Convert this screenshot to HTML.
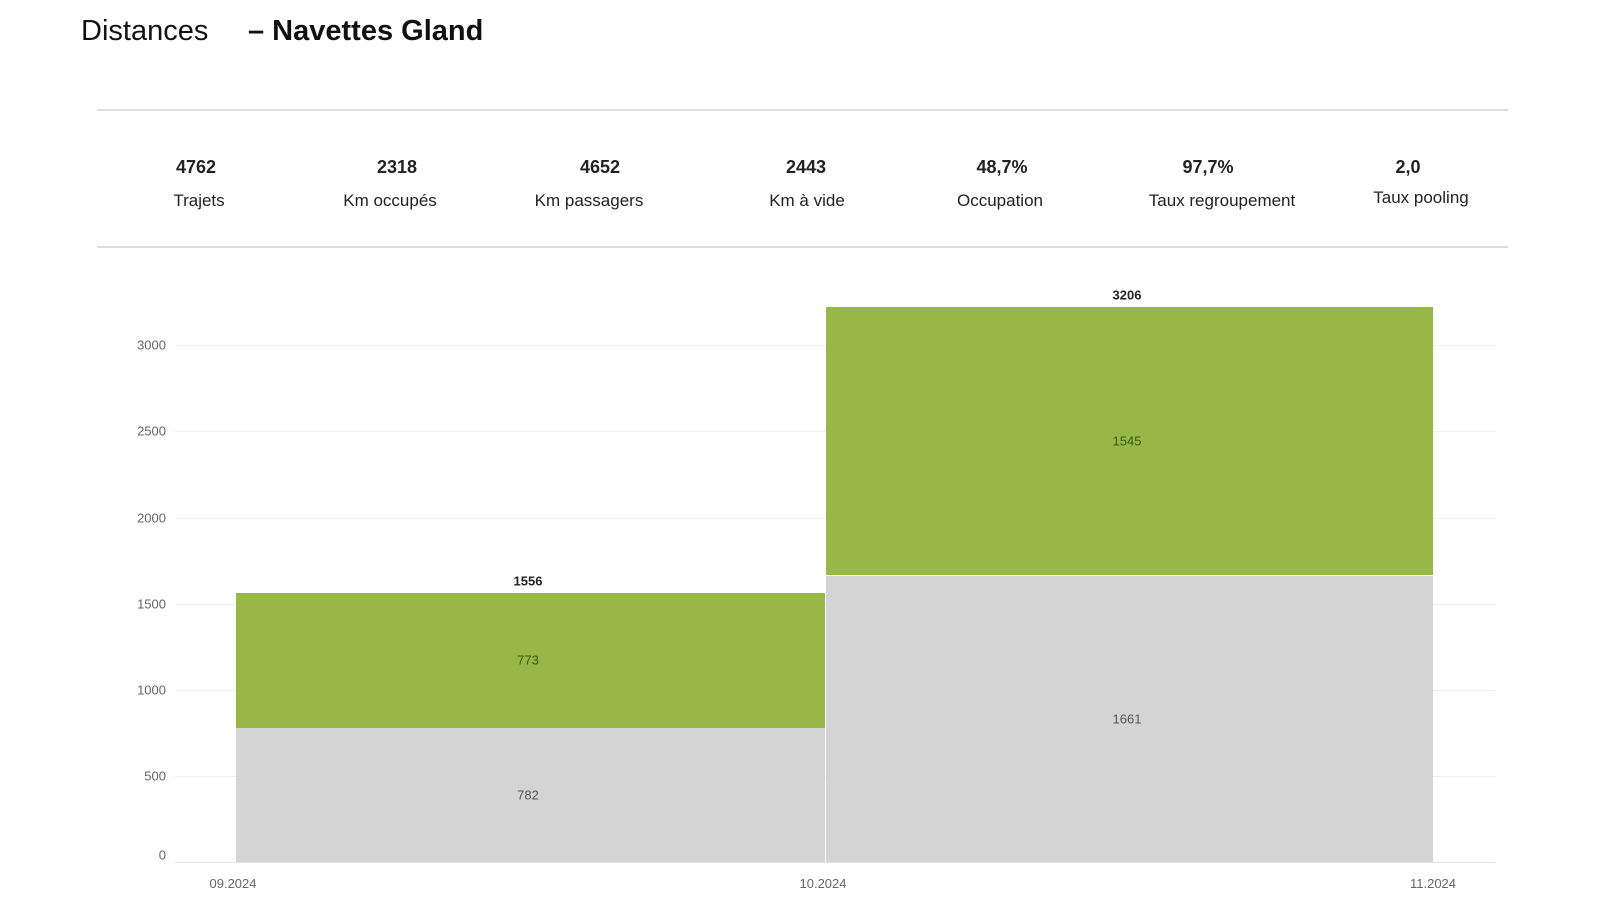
<!DOCTYPE html>
<html><head><meta charset="utf-8"><style>
body{margin:0;width:1600px;height:900px;background:#fff;font-family:"Liberation Sans",sans-serif;position:relative;overflow:hidden}
.a{position:absolute;white-space:nowrap}
.t{font-size:29px;color:#111;top:15px}
.n{font-weight:bold;font-size:18px;color:#222;top:157px;transform:translateX(-50%)}
.l{font-size:17px;color:#222;top:191px;transform:translateX(-50%)}
.hr{position:absolute;left:97px;width:1411px;height:2px;background:#ddd}
.g{position:absolute;left:175px;width:1320px;height:1px;background:#f0f0f0}
.y{font-size:13px;color:#666;right:1434px;transform:translateY(-50%)}
.x{font-size:13px;color:#666;top:876px;transform:translateX(-50%)}
.v{font-size:13px;color:#555;transform:translate(-50%,-50%)}
</style></head><body>
<div class="a t" style="left:81px">Distances</div>
<div class="a t" style="left:248px;font-weight:bold">– Navettes Gland</div>
<div class="hr" style="top:109px"></div>
<div class="hr" style="top:246px"></div>
<div class="a n" style="left:196px">4762</div><div class="a l" style="left:199px">Trajets</div>
<div class="a n" style="left:397px">2318</div><div class="a l" style="left:390px">Km occupés</div>
<div class="a n" style="left:600px">4652</div><div class="a l" style="left:589px">Km passagers</div>
<div class="a n" style="left:806px">2443</div><div class="a l" style="left:807px">Km à vide</div>
<div class="a n" style="left:1002px">48,7%</div><div class="a l" style="left:1000px">Occupation</div>
<div class="a n" style="left:1208px">97,7%</div><div class="a l" style="left:1222px">Taux regroupement</div>
<div class="a n" style="left:1408px">2,0</div><div class="a l" style="left:1421px;top:188px">Taux pooling</div>

<div class="g" style="top:345px"></div><div class="g" style="top:431px"></div><div class="g" style="top:518px"></div>
<div class="g" style="top:604px"></div><div class="g" style="top:690px"></div><div class="g" style="top:776px"></div>
<div class="g" style="top:862px;background:#e4e4e4"></div>
<div class="a y" style="top:345px">3000</div><div class="a y" style="top:431px">2500</div><div class="a y" style="top:518px">2000</div>
<div class="a y" style="top:604px">1500</div><div class="a y" style="top:690px">1000</div><div class="a y" style="top:776px">500</div>
<div class="a y" style="top:855px">0</div>

<div class="a" style="left:236px;top:593px;width:589px;height:135px;background:#97b847"></div>
<div class="a" style="left:236px;top:728px;width:589px;height:134px;background:#d4d4d4"></div>
<div class="a" style="left:826px;top:307px;width:607px;height:268px;background:#97b847"></div>
<div class="a" style="left:826px;top:576px;width:607px;height:286px;background:#d4d4d4"></div>

<div class="a v" style="left:528px;top:581px;font-weight:bold;color:#222">1556</div>
<div class="a v" style="left:528px;top:660px;color:#3a5a10">773</div>
<div class="a v" style="left:528px;top:795px">782</div>
<div class="a v" style="left:1127px;top:295px;font-weight:bold;color:#222">3206</div>
<div class="a v" style="left:1127px;top:441px;color:#3a5a10">1545</div>
<div class="a v" style="left:1127px;top:719px">1661</div>

<div class="a x" style="left:233px">09.2024</div>
<div class="a x" style="left:823px">10.2024</div>
<div class="a x" style="left:1433px">11.2024</div>
</body></html>
